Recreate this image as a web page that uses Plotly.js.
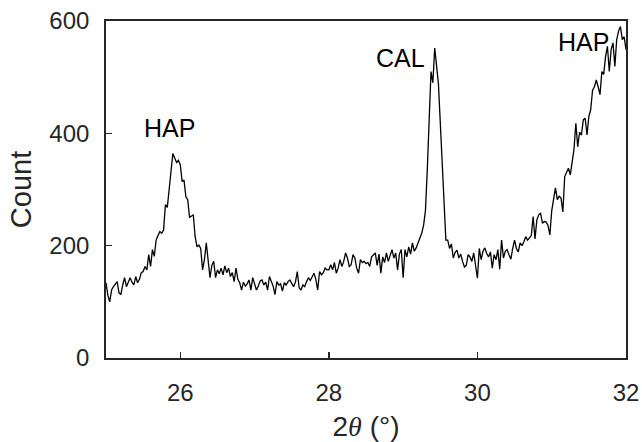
<!DOCTYPE html>
<html>
<head>
<meta charset="utf-8">
<script src="https://cdn.plot.ly/plotly-3.0.1.min.js"></script>
<style>html,body{margin:0;padding:0;background:#fff;}#chart{width:642px;height:442px;}</style>
</head>
<body>
<div id="chart"></div>
<script>
// Scan grid of the diffractogram (degrees 2θ)
const scanStart = 25.0;
const scanStep = 0.025;

// Counts, one per scan step, 25.000 → 32.000
const counts = [
  134,112,100,121,127,132,136,116,113,130,143,127,134,143,135,130,145,134,140,152,
  154,163,157,184,163,193,181,210,218,225,222,228,273,268,300,330,364,356,348,352,
  344,314,317,287,282,250,252,255,216,198,201,195,157,175,205,175,143,165,172,143,
  157,150,160,148,164,152,160,145,152,136,160,140,134,121,135,128,132,139,121,143,
  132,121,128,137,139,130,135,121,145,136,128,113,136,130,132,119,134,130,136,139,
  132,127,135,154,125,121,130,127,136,143,138,145,151,140,121,154,148,152,160,157,
  157,166,157,170,151,160,175,163,172,187,178,163,166,184,178,160,151,175,170,172,
  168,170,163,180,184,187,165,185,151,180,170,187,172,182,193,178,187,157,185,193,
  143,193,180,198,185,205,190,196,205,212,222,236,262,335,420,510,490,552,520,488,
  419,356,270,210,210,195,203,178,188,192,178,185,172,162,165,184,180,172,187,165,
  142,195,175,190,196,186,180,189,160,184,175,193,158,210,178,190,193,184,176,195,
  210,195,189,205,200,207,216,210,214,218,252,212,246,255,258,240,243,242,236,219,
  262,285,303,282,288,285,260,323,332,338,326,347,372,418,376,402,397,424,427,397,
  430,442,477,483,495,483,469,510,505,537,555,510,549,561,519,567,582,590,567,572,
  549
];
const angles = counts.map((_, i) => +(scanStart + i * scanStep).toFixed(3));

// Peak labels
const peakLabels = ["HAP", "CAL", "HAP"];
const peakX = [25.86, 28.96, 31.43];
const peakY = [410, 535, 562];

// Axis ticks
const xTicks = [26, 28, 30, 32];
const yTicks = [0, 200, 400, 600];

const axisColor = "#262626";
const fontFam = "Liberation Sans, Arial, sans-serif";

const trace = {
  x: angles, y: counts, type: "scatter", mode: "lines",
  line: {color: "#000000", width: 1.3}, hoverinfo: "skip"
};

const annotations = peakLabels.map((t, i) => ({
  x: peakX[i], y: peakY[i], xref: "x", yref: "y", text: t, showarrow: false,
  font: {family: fontFam, size: 25, color: "#000000"}
}));

const layout = {
  width: 642, height: 442,
  margin: {l: 106, r: 16, t: 21, b: 84},
  paper_bgcolor: "#ffffff", plot_bgcolor: "#ffffff",
  showlegend: false,
  font: {family: fontFam, size: 24, color: axisColor},
  xaxis: {
    range: [25, 32], tickvals: xTicks, ticktext: xTicks.map(String),
    ticks: "inside", ticklen: 6, tickwidth: 1.5, tickcolor: axisColor,
    showline: true, linecolor: axisColor, linewidth: 1.8, mirror: true,
    showgrid: false, zeroline: false, ticklabelstandoff: 12,
    tickfont: {family: fontFam, size: 24, color: axisColor},
    title: {text: "2<span style=\"font-family:'Liberation Serif',serif\"><i>θ</i></span> (°)", standoff: 14,
            font: {family: fontFam, size: 28, color: axisColor}}
  },
  yaxis: {
    range: [0, 600], tickvals: yTicks, ticktext: yTicks.map(String),
    ticks: "inside", ticklen: 6, tickwidth: 1.5, tickcolor: axisColor,
    showline: true, linecolor: axisColor, linewidth: 1.8, mirror: true,
    showgrid: false, zeroline: false, ticklabelstandoff: 10,
    tickfont: {family: fontFam, size: 24, color: axisColor},
    title: {text: "Count", standoff: 9,
            font: {family: fontFam, size: 29, color: axisColor}}
  },
  annotations: annotations
};

Plotly.newPlot("chart", [trace], layout, {staticPlot: true, displayModeBar: false});
</script>
</body>
</html>
